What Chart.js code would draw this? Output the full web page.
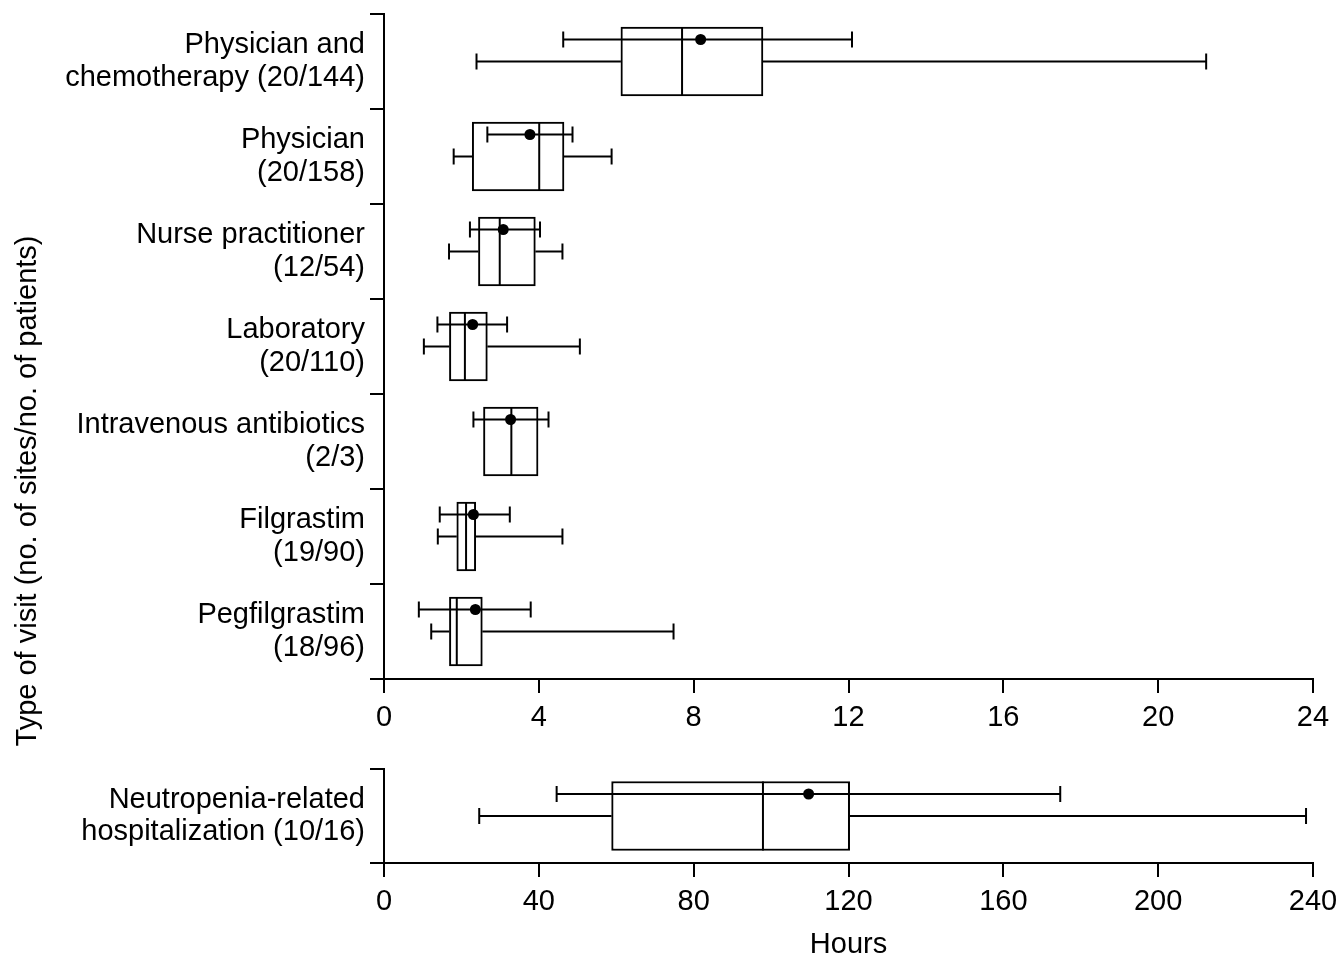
<!DOCTYPE html>
<html>
<head>
<meta charset="utf-8">
<script src="https://cdn.jsdelivr.net/npm/chart.js@4/dist/chart.umd.min.js"></script>
<style>
  html, body { margin: 0; padding: 0; background: #fff; overflow: hidden; }
  #top { position: absolute; left: 0; top: 0; width: 1339px; height: 760px; }
  #bottom { position: absolute; left: 0; top: 755px; width: 1339px; height: 207px; }
</style>
</head>
<body>
<div id="top"><canvas id="visitsChart"></canvas></div>
<div id="bottom"><canvas id="hospChart"></canvas></div>
<script>
// --- DATA (hours) ---
const visitLabels = [
    ['Physician and', 'chemotherapy (20/144)'],
    ['Physician', '(20/158)'],
    ['Nurse practitioner', '(12/54)'],
    ['Laboratory', '(20/110)'],
    ['Intravenous antibiotics', '(2/3)'],
    ['Filgrastim', '(19/90)'],
    ['Pegfilgrastim', '(18/96)']
];
const visitMin    = [2.39, 1.80, 1.68, 1.03, null, 1.39, 1.22];
const visitQ1     = [6.12, 2.28, 2.44, 1.69, 2.57, 1.88, 1.69];
const visitMedian = [7.70, 4.01, 2.99, 2.09, 3.29, 2.12, 1.88];
const visitQ3     = [9.79, 4.65, 3.91, 2.67, 3.98, 2.37, 2.54];
const visitMax    = [21.24, 5.88, 4.61, 5.06, null, 4.61, 7.48];
const visitMean   = [8.18, 3.77, 3.08, 2.29, 3.27, 2.31, 2.36];
const visitMeanLo = [4.63, 2.67, 2.22, 1.38, 2.31, 1.44, 0.90];
const visitMeanHi = [12.09, 4.87, 4.03, 3.18, 4.25, 3.25, 3.79];
const visitTicks  = [0, 4, 8, 12, 16, 20, 24];

const hospLabels  = [['Neutropenia-related', 'hospitalization (10/16)']];
const hospMin     = [24.6];
const hospQ1      = [58.8];
const hospMedian  = [97.9];
const hospQ3      = [120.3];
const hospMax     = [238.2];
const hospMean    = [109.7];
const hospMeanLo  = [44.6];
const hospMeanHi  = [174.7];
const hospTicks   = [0, 40, 80, 120, 160, 200, 240];

// --- STYLE ---
const FONT = { family: "'Liberation Sans', Arial, sans-serif", size: 29 };
const BOX_H = 69;
const CAP = 8;
const MEAN_OFFSET = 22;
const LINE_W = 2;

Chart.defaults.font.family = FONT.family;
Chart.defaults.color = '#000';
Chart.defaults.animation = false;

// --- PLUGINS ---
const boxExtras = {
    id: 'boxExtras',
    afterDatasetsDraw(chart, args, opts) {
        const { ctx, scales: { x, y } } = chart;
        const s = opts.stats;
        const hLine = (a, b, yy) => { ctx.beginPath(); ctx.moveTo(a, yy); ctx.lineTo(b, yy); ctx.stroke(); };
        const vLine = (xx, a, b) => { ctx.beginPath(); ctx.moveTo(xx, a); ctx.lineTo(xx, b); ctx.stroke(); };
        ctx.save();
        ctx.strokeStyle = '#000';
        ctx.fillStyle = '#000';
        ctx.lineWidth = LINE_W;
        s.median.forEach((med, i) => {
            const yc = y.getPixelForValue(i);
            const px = v => x.getPixelForValue(v);
            // median
            vLine(px(med), yc - BOX_H / 2, yc + BOX_H / 2);
            // whiskers
            if (s.min[i] !== null) {
                hLine(px(s.min[i]), px(s.q1[i]), yc);
                vLine(px(s.min[i]), yc - CAP, yc + CAP);
            }
            if (s.max[i] !== null) {
                hLine(px(s.q3[i]), px(s.max[i]), yc);
                vLine(px(s.max[i]), yc - CAP, yc + CAP);
            }
            // mean with error bar
            const ym = yc - MEAN_OFFSET;
            hLine(px(s.meanLo[i]), px(s.meanHi[i]), ym);
            vLine(px(s.meanLo[i]), ym - CAP, ym + CAP);
            vLine(px(s.meanHi[i]), ym - CAP, ym + CAP);
            ctx.beginPath();
            ctx.arc(px(s.mean[i]), ym, 5.5, 0, Math.PI * 2);
            ctx.fill();
        });
        ctx.restore();
    }
};

const sideTitle = {
    id: 'sideTitle',
    afterDraw(chart, args, opts) {
        if (!opts.text) return;
        const { ctx } = chart;
        ctx.save();
        ctx.translate(opts.x, opts.y);
        ctx.rotate(-Math.PI / 2);
        ctx.font = `${FONT.size}px ${FONT.family}`;
        ctx.fillStyle = '#000';
        ctx.textAlign = 'center';
        ctx.textBaseline = 'middle';
        ctx.fillText(opts.text, 0, 0);
        ctx.restore();
    }
};

// --- CHART BUILDER ---
function boxChart(canvasId, labels, stats, ticks, xHeight, extra) {
    const axisGrid = { drawOnChartArea: false, drawTicks: true, tickLength: 14, color: '#000', lineWidth: LINE_W };
    return new Chart(document.getElementById(canvasId), {
        type: 'bar',
        data: {
            labels,
            datasets: [{
                data: stats.q1.map((v, i) => [v, stats.q3[i]]),
                backgroundColor: '#fff',
                borderColor: '#000',
                borderWidth: LINE_W,
                borderSkipped: false,
                barThickness: BOX_H
            }]
        },
        options: {
            indexAxis: 'y',
            responsive: true,
            maintainAspectRatio: false,
            layout: { padding: { top: 14, right: 26, left: 0, bottom: 0 } },
            plugins: {
                legend: { display: false },
                tooltip: { enabled: false },
                boxExtras: { stats },
                sideTitle: extra.sideTitle || { text: '' }
            },
            scales: {
                x: {
                    type: 'linear',
                    min: ticks[0],
                    max: ticks[ticks.length - 1],
                    afterBuildTicks: s => { s.ticks = ticks.map(v => ({ value: v })); },
                    ticks: { font: FONT, color: '#000', padding: 8, maxRotation: 0, autoSkip: false },
                    grid: axisGrid,
                    border: { color: '#000', width: LINE_W },
                    title: extra.title || { display: false },
                    afterFit: s => { s.height = xHeight; s.paddingLeft = 0; s.paddingRight = 0; }
                },
                y: {
                    type: 'category',
                    offset: true,
                    ticks: { font: { ...FONT, lineHeight: 1.12 }, color: '#000', padding: 5, autoSkip: false },
                    grid: { ...axisGrid, offset: true },
                    border: { color: '#000', width: LINE_W },
                    afterFit: s => { s.width = 384; s.paddingTop = 0; s.paddingBottom = 0; }
                }
            }
        },
        plugins: [boxExtras, sideTitle]
    });
}

// --- INITIALIZATION ---
document.addEventListener('DOMContentLoaded', () => {
    boxChart('visitsChart', visitLabels, {
        min: visitMin, q1: visitQ1, median: visitMedian, q3: visitQ3, max: visitMax,
        mean: visitMean, meanLo: visitMeanLo, meanHi: visitMeanHi
    }, visitTicks, 81, {
        sideTitle: { text: 'Type of visit (no. of sites/no. of patients)', x: 28, y: 491 }
    });

    boxChart('hospChart', hospLabels, {
        min: hospMin, q1: hospQ1, median: hospMedian, q3: hospQ3, max: hospMax,
        mean: hospMean, meanLo: hospMeanLo, meanHi: hospMeanHi
    }, hospTicks, 99, {
        title: { display: true, text: 'Hours', font: FONT, color: '#000', padding: { top: 0, bottom: 0 } }
    });
});
</script>
</body>
</html>
